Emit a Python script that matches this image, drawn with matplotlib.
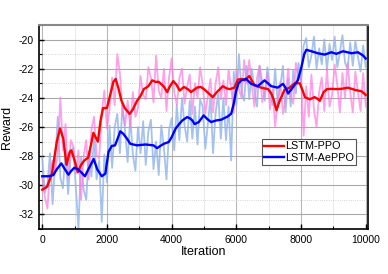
import numpy as np
import matplotlib
matplotlib.use("Agg")
import matplotlib.pyplot as plt
from matplotlib.ticker import MultipleLocator

plt.rcParams['font.family'] = ['Liberation Sans', 'DejaVu Sans']
plt.rcParams['axes.unicode_minus'] = False

# ---------------- data ----------------
raw_step = 80
raw_ppo = [
    -29.4, -30.8, -31.6, -29.0, -28.3, -29.2, -27.8, -24.0, -27.6, -25.8,
    -29.5, -26.9, -27.3, -29.2, -27.6, -31.0, -28.0, -26.9, -29.6, -26.2,
    -25.3, -27.9, -28.2, -25.0, -23.5, -26.1, -24.8, -22.6, -24.5, -21.0,
    -22.3, -24.9, -25.9, -24.2, -26.0, -23.6, -25.3, -24.7, -22.5, -23.8,
    -24.1, -21.9, -22.6, -24.3, -21.1, -23.5, -24.0, -22.0, -24.9, -22.6,
    -21.3, -23.6, -24.5, -22.6, -22.0, -24.4, -23.2, -22.4, -25.1, -23.0,
    -24.0, -21.9, -23.1, -25.1, -23.9, -22.7, -25.0, -23.0, -21.9, -24.1,
    -22.8, -24.5, -22.1, -23.3, -25.0, -22.1, -23.4, -24.0, -21.4, -23.0,
    -21.4, -23.2, -24.6, -22.6, -21.8, -24.3, -23.5, -22.3, -24.8, -23.4,
    -26.0, -24.1, -22.9, -25.1, -24.0, -22.0, -23.9, -24.4, -21.6, -22.7,
    -22.5, -26.6, -23.2, -25.3, -22.4, -24.8, -26.0, -23.6, -22.6, -24.9,
    -22.0, -24.6, -23.8, -21.7, -23.1, -25.0, -22.3, -24.0, -21.6, -23.6,
    -25.0, -22.2, -23.6, -24.9, -22.3, -24.6,
]
raw_aeppo = [
    -28.1, -30.5, -29.9, -27.8, -31.3, -28.4, -25.3, -29.5, -30.2, -27.6,
    -30.6, -28.0, -27.4, -30.2, -33.0, -28.1, -30.3, -31.0, -27.7, -29.4,
    -26.7, -29.6, -28.3, -32.5, -27.9, -29.8, -25.9, -28.8, -26.0, -25.1,
    -27.8, -24.5, -26.2, -28.4, -25.3, -27.9, -29.0, -26.0, -27.8, -25.6,
    -28.6, -26.3, -25.5, -28.9, -27.0, -29.3, -25.9, -27.4, -29.6, -26.2,
    -25.4, -27.6, -24.5, -26.9, -24.0, -25.9, -27.0, -24.2, -26.8, -24.6,
    -27.2, -24.1, -24.6, -27.5, -25.8, -23.9, -27.8, -25.0, -23.7, -26.8,
    -24.0, -26.9, -24.6, -28.3, -22.2, -24.5, -21.0, -23.6, -24.2, -21.8,
    -24.1, -22.0, -23.5, -24.6, -21.8, -22.9, -24.2, -21.9, -23.4, -24.5,
    -22.0, -24.4, -23.2, -21.8, -25.0, -22.7, -24.6, -22.1, -23.7, -21.6,
    -23.0, -20.4, -19.9, -21.9, -21.1, -19.8, -22.0, -20.6, -21.7, -20.0,
    -22.1, -20.3, -21.4, -19.8, -21.9, -20.9, -19.7, -21.6, -22.0, -20.2,
    -21.8, -20.1, -21.2, -22.2, -20.4, -21.9,
]
raw_x = [raw_step * i for i in range(len(raw_ppo))]

smooth_ppo_x = [0, 150, 300, 450, 550, 650, 750, 850, 900, 1000, 1100, 1200, 1300, 1420,
                1500, 1580, 1650, 1720, 1800, 1880, 2000, 2100, 2200, 2270, 2350, 2450,
                2550, 2700, 2800, 2930, 3030, 3140, 3280, 3400, 3500, 3600, 3750, 3860,
                3950, 4050, 4150, 4250, 4380, 4500, 4600, 4780, 4900, 5000, 5150, 5270,
                5400, 5580, 5700, 5800, 5940, 6050, 6150, 6260, 6400, 6500, 6570, 6770,
                6980, 7080, 7150, 7240, 7340, 7490, 7650, 7800, 7960, 8050, 8120, 8270,
                8420, 8500, 8580, 8700, 8800, 8940, 9100, 9250, 9450, 9660, 9870, 10000]
smooth_ppo_y = [-30.3, -30.1, -29.2, -27.0, -26.1, -26.8, -28.6, -27.7, -27.6, -28.3, -29.1,
                -28.6, -28.3, -28.1, -27.3, -26.4, -26.7, -27.0, -25.6, -24.7, -24.7, -23.8,
                -22.9, -22.7, -23.3, -24.2, -24.7, -25.1, -24.8, -24.2, -23.9, -23.4, -23.2,
                -22.8, -22.9, -22.9, -23.2, -23.6, -23.2, -22.85, -23.1, -23.5, -23.25, -23.4,
                -23.6, -23.3, -23.25, -23.4, -23.7, -23.95, -23.6, -23.2, -23.35, -23.4, -23.3,
                -22.75, -22.7, -22.8, -22.5, -22.9, -23.15, -23.3, -23.4, -23.7, -24.1, -24.85,
                -24.2, -23.45, -23.3, -23.0, -23.0, -23.5, -23.95, -24.1, -23.95, -24.05, -24.2,
                -23.6, -23.4, -23.38, -23.4, -23.38, -23.3, -23.45, -23.55, -23.8]

smooth_aeppo_x = [0, 200, 340, 450, 590, 700, 810, 900, 990, 1100, 1200, 1320, 1450, 1590,
                  1700, 1840, 1950, 2050, 2150, 2250, 2330, 2410, 2500, 2620, 2720, 2930,
                  3190, 3440, 3550, 3650, 3760, 3910, 4000, 4120, 4230, 4330, 4480, 4560,
                  4640, 4710, 4840, 4990, 5100, 5220, 5380, 5530, 5740, 5840, 5920, 5995,
                  6070, 6150, 6300, 6460, 6660, 6870, 7080, 7280, 7440, 7520, 7600, 7750,
                  7900, 8010, 8100, 8164, 8320, 8520, 8730, 8940, 9090, 9300, 9560, 9760,
                  9920, 10000]
smooth_aeppo_y = [-29.38, -29.38, -29.3, -28.9, -28.5, -28.9, -29.27, -29.0, -28.8, -28.9,
                  -29.1, -29.38, -28.8, -28.2, -28.9, -29.38, -29.2, -27.7, -27.3, -27.26,
                  -26.8, -26.3, -26.45, -26.8, -27.15, -27.26, -27.2, -27.26, -27.45, -27.3,
                  -27.15, -27.03, -26.7, -26.12, -25.8, -25.55, -25.32, -25.4, -25.55, -25.8,
                  -25.66, -25.2, -25.45, -25.66, -25.55, -25.5, -25.27, -25.09, -24.4, -23.5,
                  -23.0, -22.8, -22.69, -23.04, -23.2, -22.8, -23.2, -23.3, -23.04, -23.3,
                  -23.7, -23.27, -22.8, -21.9, -21.0, -20.7, -20.8, -20.94, -21.03, -20.87,
                  -20.98, -20.8, -20.94, -20.87, -21.1, -21.3]

labels = ['LSTM-PPO', 'LSTM-AePPO']
x_ticks = [0, 2000, 4000, 6000, 8000, 10000]
y_ticks = [-32, -30, -28, -26, -24, -22, -20]

# ---------------- figure ----------------
fig = plt.figure(figsize=(3.88, 2.74), dpi=100)
ax = fig.add_axes([39/388, 1 - 229/274, 329/388, 204/274])

ax.plot(raw_x, raw_aeppo, color='#8fb3ec', lw=1.3, alpha=0.8, zorder=2)
ax.plot(raw_x, raw_ppo, color='#ff78e0', lw=1.3, alpha=0.7, zorder=2)
ax.plot(smooth_ppo_x, smooth_ppo_y, color='#ff0000', lw=1.7, label=labels[0], zorder=4)
ax.plot(smooth_aeppo_x, smooth_aeppo_y, color='#0000ff', lw=1.7, label=labels[1], zorder=4)

ax.set_xlim(-100, 10070)
ax.set_ylim(-33, -19)
ax.set_xticks(x_ticks)
ax.set_yticks(y_ticks)
ax.xaxis.set_minor_locator(MultipleLocator(1000))
ax.yaxis.set_minor_locator(MultipleLocator(1))

ax.grid(True, which='major', axis='y', color='#a8a8a8', lw=0.8, zorder=0)
ax.grid(True, which='minor', axis='y', color='#c8c8c8', lw=0.6, ls=':', zorder=0)
ax.grid(True, which='major', axis='x', color='#b8b8b8', lw=0.8, zorder=0)
ax.grid(True, which='minor', axis='x', color='#e6e6e6', lw=0.6, zorder=0)
ax.set_axisbelow(True)

ax.tick_params(which='both', direction='in', labelsize=7.5, pad=4)
ax.tick_params(which='major', length=3.5, width=1)
ax.tick_params(which='minor', length=2, width=0.8)

for s in ['left', 'bottom', 'right']:
    ax.spines[s].set_color('black')
    ax.spines[s].set_linewidth(1.2)
ax.spines['top'].set_color('#888888')
ax.spines['top'].set_linewidth(1.5)

ax.set_xlabel('Iteration', fontsize=9, labelpad=1)
ax.set_ylabel('Reward', fontsize=9, labelpad=4)

leg = ax.legend(loc='upper left', bbox_to_anchor=(0.677, 0.44), fontsize=7.8,
                frameon=True, fancybox=False, edgecolor='#555555', framealpha=1,
                handlelength=1.9, handletextpad=0.05, borderpad=0.2,
                labelspacing=0.15, borderaxespad=0)
leg.get_frame().set_linewidth(0.8)

fig.savefig('out.png', dpi=100)
